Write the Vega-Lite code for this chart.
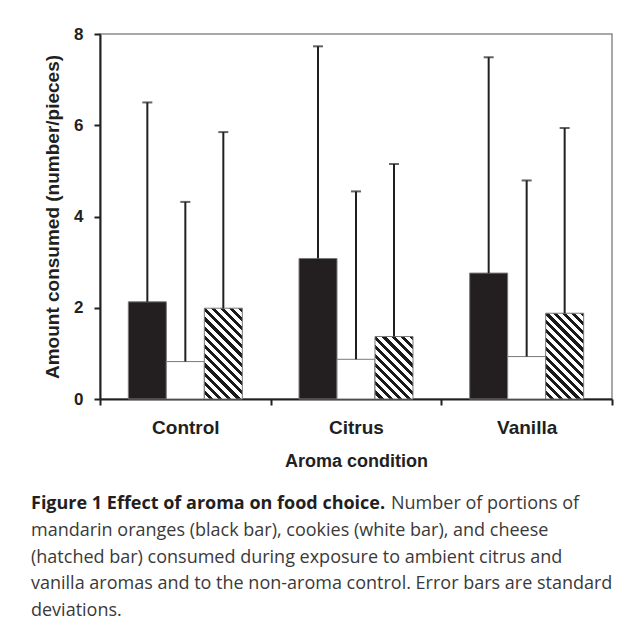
{
  "$schema": "https://vega.github.io/schema/vega-lite/v6.json",
  "autosize": {"type": "none"},
  "padding": {"left": 100, "top": 34, "right": 21, "bottom": 226},
  "width": 512,
  "height": 365,
  "background": "white",
  "config": {
    "view": {"stroke": "#8c8c8c", "strokeWidth": 1.5},
    "axis": {
      "labelFont": "Liberation Sans",
      "titleFont": "Liberation Sans",
      "labelFontWeight": "bold",
      "titleFontWeight": "bold",
      "labelColor": "#231f20",
      "titleColor": "#231f20",
      "domainColor": "#231f20",
      "tickColor": "#231f20",
      "domainWidth": 2,
      "tickWidth": 2,
      "grid": false
    }
  },
  "title": {
    "text": "Figure 1 Effect of aroma on food choice.",
    "subtitle": [
      "\u200b\u2003\u2003\u2003\u2003\u2003\u2003\u2003\u2003\u2003\u2003\u2003\u2003\u2003\u2003\u2003\u2003\u2003\u2003\u2003\u2003Number of portions of",
      "mandarin oranges (black bar), cookies (white bar), and cheese",
      "(hatched bar) consumed during exposure to ambient citrus and",
      "vanilla aromas and to the non-aroma control. Error bars are standard",
      "deviations."
    ],
    "orient": "bottom",
    "anchor": "start",
    "frame": "group",
    "dx": -69,
    "offset": 25,
    "font": "Open Sans",
    "fontSize": 18,
    "fontWeight": "bold",
    "color": "#231f20",
    "subtitleFont": "Open Sans",
    "subtitleFontSize": 18,
    "subtitleFontWeight": "normal",
    "subtitleColor": "#3a3a3a",
    "subtitleLineHeight": 26.8,
    "subtitlePadding": -18
  },
  "data": {
    "values": [
      {"condition": "Control", "food": "Mandarin oranges", "mean": 2.13, "upper": 6.50},
      {"condition": "Control", "food": "Cookies", "mean": 0.82, "upper": 4.32},
      {"condition": "Control", "food": "Cheese", "mean": 1.99, "upper": 5.85},
      {"condition": "Citrus", "food": "Mandarin oranges", "mean": 3.08, "upper": 7.73},
      {"condition": "Citrus", "food": "Cookies", "mean": 0.87, "upper": 4.55},
      {"condition": "Citrus", "food": "Cheese", "mean": 1.37, "upper": 5.15},
      {"condition": "Vanilla", "food": "Mandarin oranges", "mean": 2.76, "upper": 7.49},
      {"condition": "Vanilla", "food": "Cookies", "mean": 0.93, "upper": 4.79},
      {"condition": "Vanilla", "food": "Cheese", "mean": 1.88, "upper": 5.94}
    ]
  },
  "encoding": {
    "x": {
      "field": "condition",
      "type": "nominal",
      "sort": ["Control", "Citrus", "Vanilla"],
      "scale": {"paddingInner": 0, "paddingOuter": 0},
      "axis": {
        "title": "Aroma condition",
        "labelAngle": 0,
        "labelFontSize": 19,
        "titleFontSize": 18,
        "labelPadding": 13,
        "titlePadding": 15,
        "tickSize": 6,
        "tickBand": "extent"
      }
    },
    "xOffset": {
      "field": "food",
      "type": "nominal",
      "sort": ["Mandarin oranges", "Cookies", "Cheese"],
      "scale": {"paddingInner": 0, "paddingOuter": 0.746}
    }
  },
  "layer": [
    {
      "mark": {"type": "bar", "stroke": "#7a7a7a", "strokeWidth": 1},
      "encoding": {
        "y": {
          "field": "mean",
          "type": "quantitative",
          "scale": {"domain": [0, 8], "nice": false},
          "axis": {
            "title": "Amount consumed (number/pieces)",
            "values": [0, 2, 4, 6, 8],
            "labelFontSize": 17,
            "titleFontSize": 19,
            "tickSize": 6,
            "labelPadding": 11,
            "titlePadding": 11
          }
        },
        "fill": {
          "condition": [
            {"test": "datum.food === 'Mandarin oranges'", "value": "#231f20"},
            {"test": "datum.food === 'Cookies'", "value": "white"},
            {"test": "datum.condition === 'Citrus'", "value": {
              "gradient": "linear", "x1": 0, "y1": 1, "x2": 0.714, "y2": -0.174,
              "stops": [
                {"offset": 0, "color": "white"}, {"offset": 0.0491, "color": "white"}, {"offset": 0.0491, "color": "#1a1a1a"}, {"offset": 0.0909, "color": "#1a1a1a"},
                {"offset": 0.0909, "color": "white"}, {"offset": 0.14, "color": "white"}, {"offset": 0.14, "color": "#1a1a1a"}, {"offset": 0.1818, "color": "#1a1a1a"},
                {"offset": 0.1818, "color": "white"}, {"offset": 0.2309, "color": "white"}, {"offset": 0.2309, "color": "#1a1a1a"}, {"offset": 0.2727, "color": "#1a1a1a"},
                {"offset": 0.2727, "color": "white"}, {"offset": 0.3218, "color": "white"}, {"offset": 0.3218, "color": "#1a1a1a"}, {"offset": 0.3636, "color": "#1a1a1a"},
                {"offset": 0.3636, "color": "white"}, {"offset": 0.4127, "color": "white"}, {"offset": 0.4127, "color": "#1a1a1a"}, {"offset": 0.4545, "color": "#1a1a1a"},
                {"offset": 0.4545, "color": "white"}, {"offset": 0.5036, "color": "white"}, {"offset": 0.5036, "color": "#1a1a1a"}, {"offset": 0.5455, "color": "#1a1a1a"},
                {"offset": 0.5455, "color": "white"}, {"offset": 0.5946, "color": "white"}, {"offset": 0.5946, "color": "#1a1a1a"}, {"offset": 0.6364, "color": "#1a1a1a"},
                {"offset": 0.6364, "color": "white"}, {"offset": 0.6855, "color": "white"}, {"offset": 0.6855, "color": "#1a1a1a"}, {"offset": 0.7273, "color": "#1a1a1a"},
                {"offset": 0.7273, "color": "white"}, {"offset": 0.7764, "color": "white"}, {"offset": 0.7764, "color": "#1a1a1a"}, {"offset": 0.8182, "color": "#1a1a1a"},
                {"offset": 0.8182, "color": "white"}, {"offset": 0.8673, "color": "white"}, {"offset": 0.8673, "color": "#1a1a1a"}, {"offset": 0.9091, "color": "#1a1a1a"},
                {"offset": 0.9091, "color": "white"}, {"offset": 0.9582, "color": "white"}, {"offset": 0.9582, "color": "#1a1a1a"}, {"offset": 1, "color": "#1a1a1a"}
              ]
            }},
            {"test": "datum.condition === 'Vanilla'", "value": {
              "gradient": "linear", "x1": 0, "y1": 1, "x2": 0.534, "y2": -0.206,
              "stops": [
                {"offset": 0, "color": "white"}, {"offset": 0.0386, "color": "white"}, {"offset": 0.0386, "color": "#1a1a1a"}, {"offset": 0.0714, "color": "#1a1a1a"},
                {"offset": 0.0714, "color": "white"}, {"offset": 0.11, "color": "white"}, {"offset": 0.11, "color": "#1a1a1a"}, {"offset": 0.1429, "color": "#1a1a1a"},
                {"offset": 0.1429, "color": "white"}, {"offset": 0.1815, "color": "white"}, {"offset": 0.1815, "color": "#1a1a1a"}, {"offset": 0.2143, "color": "#1a1a1a"},
                {"offset": 0.2143, "color": "white"}, {"offset": 0.2529, "color": "white"}, {"offset": 0.2529, "color": "#1a1a1a"}, {"offset": 0.2857, "color": "#1a1a1a"},
                {"offset": 0.2857, "color": "white"}, {"offset": 0.3243, "color": "white"}, {"offset": 0.3243, "color": "#1a1a1a"}, {"offset": 0.3571, "color": "#1a1a1a"},
                {"offset": 0.3571, "color": "white"}, {"offset": 0.3957, "color": "white"}, {"offset": 0.3957, "color": "#1a1a1a"}, {"offset": 0.4286, "color": "#1a1a1a"},
                {"offset": 0.4286, "color": "white"}, {"offset": 0.4672, "color": "white"}, {"offset": 0.4672, "color": "#1a1a1a"}, {"offset": 0.5, "color": "#1a1a1a"},
                {"offset": 0.5, "color": "white"}, {"offset": 0.5386, "color": "white"}, {"offset": 0.5386, "color": "#1a1a1a"}, {"offset": 0.5714, "color": "#1a1a1a"},
                {"offset": 0.5714, "color": "white"}, {"offset": 0.61, "color": "white"}, {"offset": 0.61, "color": "#1a1a1a"}, {"offset": 0.6429, "color": "#1a1a1a"},
                {"offset": 0.6429, "color": "white"}, {"offset": 0.6815, "color": "white"}, {"offset": 0.6815, "color": "#1a1a1a"}, {"offset": 0.7143, "color": "#1a1a1a"},
                {"offset": 0.7143, "color": "white"}, {"offset": 0.7529, "color": "white"}, {"offset": 0.7529, "color": "#1a1a1a"}, {"offset": 0.7857, "color": "#1a1a1a"},
                {"offset": 0.7857, "color": "white"}, {"offset": 0.8243, "color": "white"}, {"offset": 0.8243, "color": "#1a1a1a"}, {"offset": 0.8571, "color": "#1a1a1a"},
                {"offset": 0.8571, "color": "white"}, {"offset": 0.8957, "color": "white"}, {"offset": 0.8957, "color": "#1a1a1a"}, {"offset": 0.9286, "color": "#1a1a1a"},
                {"offset": 0.9286, "color": "white"}, {"offset": 0.9672, "color": "white"}, {"offset": 0.9672, "color": "#1a1a1a"}, {"offset": 1, "color": "#1a1a1a"}
              ]
            }}
          ],
          "value": {
            "gradient": "linear", "x1": 0, "y1": 1, "x2": 0.505, "y2": -0.207,
            "stops": [
              {"offset": 0, "color": "white"}, {"offset": 0.0386, "color": "white"}, {"offset": 0.0386, "color": "#1a1a1a"}, {"offset": 0.0714, "color": "#1a1a1a"},
              {"offset": 0.0714, "color": "white"}, {"offset": 0.11, "color": "white"}, {"offset": 0.11, "color": "#1a1a1a"}, {"offset": 0.1429, "color": "#1a1a1a"},
              {"offset": 0.1429, "color": "white"}, {"offset": 0.1815, "color": "white"}, {"offset": 0.1815, "color": "#1a1a1a"}, {"offset": 0.2143, "color": "#1a1a1a"},
              {"offset": 0.2143, "color": "white"}, {"offset": 0.2529, "color": "white"}, {"offset": 0.2529, "color": "#1a1a1a"}, {"offset": 0.2857, "color": "#1a1a1a"},
              {"offset": 0.2857, "color": "white"}, {"offset": 0.3243, "color": "white"}, {"offset": 0.3243, "color": "#1a1a1a"}, {"offset": 0.3571, "color": "#1a1a1a"},
              {"offset": 0.3571, "color": "white"}, {"offset": 0.3957, "color": "white"}, {"offset": 0.3957, "color": "#1a1a1a"}, {"offset": 0.4286, "color": "#1a1a1a"},
              {"offset": 0.4286, "color": "white"}, {"offset": 0.4672, "color": "white"}, {"offset": 0.4672, "color": "#1a1a1a"}, {"offset": 0.5, "color": "#1a1a1a"},
              {"offset": 0.5, "color": "white"}, {"offset": 0.5386, "color": "white"}, {"offset": 0.5386, "color": "#1a1a1a"}, {"offset": 0.5714, "color": "#1a1a1a"},
              {"offset": 0.5714, "color": "white"}, {"offset": 0.61, "color": "white"}, {"offset": 0.61, "color": "#1a1a1a"}, {"offset": 0.6429, "color": "#1a1a1a"},
              {"offset": 0.6429, "color": "white"}, {"offset": 0.6815, "color": "white"}, {"offset": 0.6815, "color": "#1a1a1a"}, {"offset": 0.7143, "color": "#1a1a1a"},
              {"offset": 0.7143, "color": "white"}, {"offset": 0.7529, "color": "white"}, {"offset": 0.7529, "color": "#1a1a1a"}, {"offset": 0.7857, "color": "#1a1a1a"},
              {"offset": 0.7857, "color": "white"}, {"offset": 0.8243, "color": "white"}, {"offset": 0.8243, "color": "#1a1a1a"}, {"offset": 0.8571, "color": "#1a1a1a"},
              {"offset": 0.8571, "color": "white"}, {"offset": 0.8957, "color": "white"}, {"offset": 0.8957, "color": "#1a1a1a"}, {"offset": 0.9286, "color": "#1a1a1a"},
              {"offset": 0.9286, "color": "white"}, {"offset": 0.9672, "color": "white"}, {"offset": 0.9672, "color": "#1a1a1a"}, {"offset": 1, "color": "#1a1a1a"}
            ]
          }
        }
      }
    },
    {
      "mark": {"type": "rule", "color": "#231f20", "strokeWidth": 2},
      "encoding": {
        "y": {"field": "mean", "type": "quantitative"},
        "y2": {"field": "upper"}
      }
    },
    {
      "mark": {"type": "tick", "color": "#231f20", "thickness": 2, "size": 10, "orient": "horizontal"},
      "encoding": {
        "y": {"field": "upper", "type": "quantitative"}
      }
    }
  ]
}
